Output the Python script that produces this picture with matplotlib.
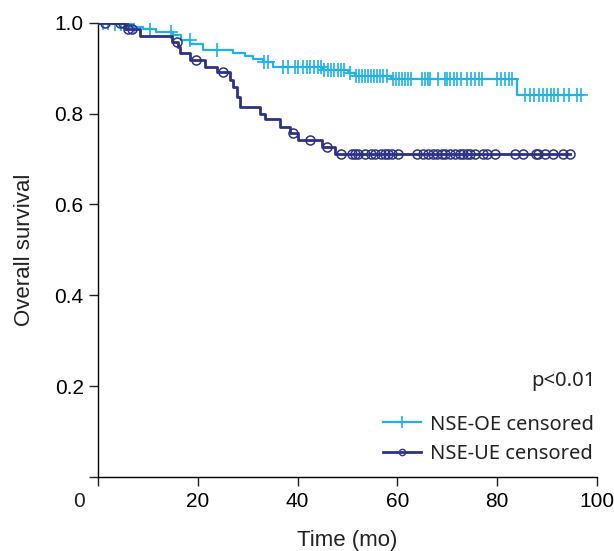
import matplotlib
matplotlib.use('Agg')
import matplotlib.pyplot as plt
from matplotlib.lines import Line2D
import numpy as np

# Kaplan-Meier steps (time in months, survival after the drop)
oe_times = [2.5, 6.5, 9.0, 11.5, 15.0, 16.5, 18.5, 21.0, 27.0, 29.5, 31.0, 33.0,
            35.0, 45.0, 50.0, 51.5, 58.8, 84.0]
oe_surv = [0.996, 0.991, 0.986, 0.980, 0.973, 0.962, 0.952, 0.940, 0.934, 0.927,
           0.920, 0.913, 0.902, 0.896, 0.889, 0.882, 0.876, 0.841]
oe_censor = [1.0, 2.0, 3.4, 4.5, 5.7, 7.1, 10.4, 14.6, 18.4, 23.8, 33.2, 34.0,
             37.0, 38.0, 39.5, 40.0, 41.0, 41.8, 42.5, 43.2, 44.0, 44.6, 45.3,
             46.0, 46.6, 47.2, 48.0, 48.6, 49.2, 50.5, 51.8, 52.4, 53.0, 53.6,
             54.2, 54.8, 55.4, 56.0, 56.6, 57.2, 58.0, 59.2, 59.8, 60.4, 61.0,
             61.6, 62.2, 62.8, 65.0, 65.6, 66.1, 66.5, 68.1, 69.5, 70.0, 70.6,
             71.3, 72.0, 72.8, 74.0, 74.8, 75.5, 76.3, 77.0, 80.0, 80.8, 81.6,
             82.4, 83.0, 85.5, 86.5, 87.5, 88.5, 89.3, 90.0, 90.8, 91.5, 92.3,
             93.5, 94.5, 96.0, 96.8]

ue_times = [5.3, 8.4, 14.8, 16.0, 16.4, 18.4, 21.4, 23.8, 26.5, 27.1, 27.8, 28.5,
            32.5, 33.5, 36.5, 38.5, 40.1, 44.8, 47.5]
ue_surv = [0.985, 0.971, 0.957, 0.947, 0.933, 0.918, 0.902, 0.892, 0.874, 0.858,
           0.837, 0.814, 0.800, 0.787, 0.771, 0.757, 0.742, 0.727, 0.711]
ue_censor = [1.4, 4.4, 4.9, 6.0, 6.8, 15.8, 19.6, 25.1, 39.0, 42.5, 45.9, 48.6,
             50.8, 51.5, 52.2, 53.5, 54.8, 55.5, 56.8, 57.5, 58.2, 58.9, 60.2,
             63.9, 65.2, 66.2, 67.2, 67.9, 68.9, 69.5, 70.5, 71.5, 72.5, 73.2,
             73.9, 74.5, 75.5, 77.2, 77.9, 79.6, 83.6, 85.2, 87.9, 88.2, 89.6,
             91.2, 93.2, 94.6]

c_oe = '#1CB2EA'
c_ue = '#2E3188'
tick_font = ['Liberation Sans Narrow', 'Liberation Sans', 'DejaVu Sans']
leg_font = ['Noto Sans', 'DejaVu Sans']


def km_curve(times, surv, censor):
    t = np.concatenate([[0.0], times, [max(censor)]])
    s = np.concatenate([[1.0], surv, [surv[-1]]])
    idx = np.searchsorted(times, censor, side='right')
    cs = np.concatenate([[1.0], surv])[idx]
    return t, s, np.array(censor), cs


fig = plt.figure(figsize=(6.14, 5.51), dpi=100)
ax = fig.add_axes([0.160, 0.134, 0.812, 0.825])

t, s, ct, cs = km_curve(oe_times, oe_surv, oe_censor)
ax.step(t, s, where='post', color=c_oe, lw=1.6, zorder=3)
ax.plot(ct, cs, ls='none', marker='+', ms=10, mew=1.2, color=c_oe, zorder=3)

t, s, ct, cs = km_curve(ue_times, ue_surv, ue_censor)
ax.step(t, s, where='post', color=c_ue, lw=2.0, zorder=4)
ax.plot(ct, cs, ls='none', marker='o', ms=6.5, mew=1.1, mfc='none', color=c_ue, zorder=4)

ax.set_xlim(0, 100)
ax.set_ylim(0, 1.0)
ax.spines['top'].set_visible(False)
ax.spines['right'].set_visible(False)
for sp in ax.spines.values():
    sp.set_linewidth(1.0)
    sp.set_clip_on(False)

ax.set_xticks([0, 20, 40, 60, 80, 100])
ax.set_xticklabels(['', '20', '40', '60', '80', '100'], family=tick_font, fontsize=15)
ax.set_yticks([0, 0.2, 0.4, 0.6, 0.8, 1.0])
ax.set_yticklabels(['', '0.2', '0.4', '0.6', '0.8', '1.0'], family=tick_font, fontsize=15)
ax.tick_params(direction='out', length=6.5, width=1.0, color='#222222')
ax.tick_params(axis='x', pad=4)
ax.tick_params(axis='y', pad=4)

# shared origin label
ax.annotate('0', xy=(0, 0), xycoords='data', xytext=(-14, -11), textcoords='offset points',
            ha='center', va='top', family=tick_font, fontsize=15, color='#222222')

ax.set_xlabel('Time (mo)', family=tick_font, fontsize=16, labelpad=14, color='#222222')
ax.set_ylabel('Overall survival', family=tick_font, fontsize=16, labelpad=14, color='#222222')

ax.text(0.997, 0.211, 'p<0.01', transform=ax.transAxes, ha='right', va='center',
        family=leg_font, fontsize=14.5, color='#222222')

handles = [Line2D([], [], color=c_oe, lw=1.6, marker='+', ms=9, mew=1.2),
           Line2D([], [], color=c_ue, lw=2.0, marker='o', ms=4.5, mew=1.0, mfc='none')]
leg = ax.legend(handles, ['NSE-OE censored', 'NSE-UE censored'], loc='lower right',
                bbox_to_anchor=(1.03, -0.01), frameon=False, handlelength=1.85,
                handletextpad=0.45, labelspacing=0.45, prop={'family': leg_font, 'size': 14.5})
for txt in leg.get_texts():
    txt.set_color('#222222')

fig.savefig('out.png', dpi=100)
